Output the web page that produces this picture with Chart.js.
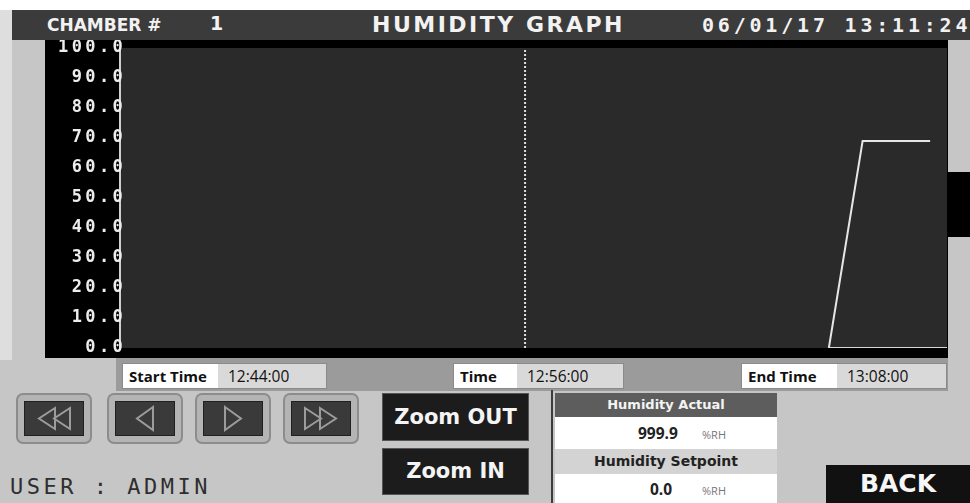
<!DOCTYPE html>
<html>
<head>
<meta charset="utf-8">
<script src="https://cdn.jsdelivr.net/npm/chart.js@4.4.0/dist/chart.umd.min.js"></script>
<style>
  body { margin: 0; width: 970px; height: 503px; background: #c6c6c6; position: relative; overflow: hidden; font-family: "DejaVu Sans", sans-serif; }
  .abs { position: absolute; }
  #topband { left: 0; top: 0; width: 970px; height: 10px; background: #fff; }
  #leftstrip { left: 0; top: 10px; width: 12px; height: 350px; background: #dedede; }
  #header { left: 12px; top: 10px; width: 958px; height: 30px; background: #3b3b3b; color: #f2f2f2; }
  #header span { position: absolute; font-weight: bold; white-space: nowrap; }
  #chamber { left: 35px; top: 5px; font-size: 17px; }
  #chamberNo { left: 198px; top: 2px; font-size: 19px; }
  #title { left: 360px; top: 2px; font-size: 22px; letter-spacing: 2.5px; }
  #clock { left: 690px; top: 3px; font-family: "DejaVu Sans Mono", monospace; font-size: 20px; letter-spacing: 3.8px; }
  #graph { left: 45px; top: 40px; background: #000; }
  #rightblock { left: 948px; top: 172px; width: 22px; height: 65px; background: #000; }
  #timebar { left: 116px; top: 358px; width: 832px; height: 33px; background: #9b9b9b; }
  .tbox { position: absolute; top: 363px; height: 24px; border: 1px solid #8a8a8a; background: #d9d9d9; display: flex; color: #111; }
  .tbox .lab { background: #fff; font-family: "Open Sans", sans-serif; font-weight: bold; font-size: 15px; padding-left: 6px; line-height: 24px; }
  .tbox .val { font-family: "Open Sans", sans-serif; font-size: 15.5px; padding-left: 10px; line-height: 24px; }
  .nav { position: absolute; top: 393px; width: 72px; height: 47px; background: #b4b4b4; border: 2px solid #8c8c8c; border-radius: 7px; }
  .nav .in { position: absolute; left: 6px; top: 6px; right: 6px; bottom: 6px; background: #3a3a3a; border: 1px solid #202020; }
  .nav svg { position: absolute; left: 0; top: 0; }
  .zbtn { position: absolute; left: 382px; width: 145px; background: #1c1c1c; color: #f4f4f4; font-weight: bold; font-size: 21px; text-align: center; border: 1px solid #555; }
  #sep { left: 551px; top: 390px; width: 2px; height: 113px; background: #3c3c3c; }
  .hrow { position: absolute; left: 555px; width: 222px; }
  .num { position: absolute; font-family: "Open Sans", sans-serif; font-weight: bold; font-size: 15.5px; color: #222; }
  .unit { position: absolute; left: 147px; font-family: "Open Sans", sans-serif; font-size: 11px; color: #777; }
  #back { left: 826px; top: 465px; width: 144px; height: 38px; background: #111; color: #f6f6f6; font-weight: bold; font-size: 25px; text-align: center; line-height: 38px; }
  #user { left: 10px; top: 474px; font-family: "DejaVu Sans Mono", monospace; font-size: 22px; letter-spacing: 3.5px; color: #2e2e2e; white-space: nowrap; }
</style>
</head>
<body>
<div id="topband" class="abs"></div>
<div id="leftstrip" class="abs"></div>
<div id="header" class="abs">
  <span id="chamber">CHAMBER #</span>
  <span id="chamberNo">1</span>
  <span id="title">HUMIDITY GRAPH</span>
  <span id="clock">06/01/17 13:11:24</span>
</div>

<canvas id="graph" class="abs" width="903" height="318"></canvas>
<div id="rightblock" class="abs"></div>

<div id="timebar" class="abs"></div>
<div class="tbox" style="left:122px;width:203px"><div class="lab" style="width:89px">Start Time</div><div class="val">12:44:00</div></div>
<div class="tbox" style="left:453px;width:169px"><div class="lab" style="width:57px">Time</div><div class="val">12:56:00</div></div>
<div class="tbox" style="left:741px;width:204px"><div class="lab" style="width:89px">End Time</div><div class="val">13:08:00</div></div>

<div class="nav" style="left:16px"><div class="in"></div>
  <svg width="72" height="47"><polygon points="37,13 21,23.5 37,34" fill="none" stroke="#9c9c9c" stroke-width="2"/><polygon points="52,13 36,23.5 52,34" fill="none" stroke="#9c9c9c" stroke-width="2"/></svg></div>
<div class="nav" style="left:107px"><div class="in"></div>
  <svg width="72" height="47"><polygon points="44,12 28,23.5 44,35" fill="none" stroke="#9c9c9c" stroke-width="2"/></svg></div>
<div class="nav" style="left:195px"><div class="in"></div>
  <svg width="72" height="47"><polygon points="28,12 44,23.5 28,35" fill="none" stroke="#9c9c9c" stroke-width="2"/></svg></div>
<div class="nav" style="left:283px"><div class="in"></div>
  <svg width="72" height="47"><polygon points="20,13 36,23.5 20,34" fill="none" stroke="#9c9c9c" stroke-width="2"/><polygon points="35,13 51,23.5 35,34" fill="none" stroke="#9c9c9c" stroke-width="2"/></svg></div>

<div class="zbtn" style="top:393px;height:46px;line-height:46px">Zoom OUT</div>
<div class="zbtn" style="top:448px;height:45px;line-height:45px">Zoom IN</div>

<div id="sep" class="abs"></div>
<div class="hrow" style="top:393px;height:24px;background:#5d5d5d;color:#f4f4f4;font-weight:bold;font-size:13px;text-align:center;line-height:24px">Humidity Actual</div>
<div class="hrow" style="top:417px;height:32px;background:#fff"><span class="num" style="left:83px;top:5px">999.9</span><span class="unit" style="top:10px">%RH</span></div>
<div class="hrow" style="top:449px;height:25px;background:#d3d3d3;color:#222;font-weight:bold;font-size:14px;text-align:center;line-height:25px">Humidity Setpoint</div>
<div class="hrow" style="top:474px;height:29px;background:#fff"><span class="num" style="left:95px;top:4px">0.0</span><span class="unit" style="top:9px">%RH</span></div>

<div id="back" class="abs">BACK</div>
<div id="user" class="abs">USER : ADMIN</div>

<script>
// minutes after start time (12:44:00); window ends at 13:08:00 (+ a little margin)
const windowMinutes = 24.5;
const yTicks = [0, 10, 20, 30, 40, 50, 60, 70, 80, 90, 100];

const actualMinutes = [21, 22, 24];
const actualValues = [0, 69, 69];

const setpointMinutes = [21, 24.5];
const setpointValues = [0, 0];

const cursorMinutes = [12, 12]; // 12:56:00
const cursorValues = [0, 100];

const toPoints = (xs, ys) => xs.map((x, i) => ({ x: x, y: ys[i] }));

const plotBg = {
  id: "plotBg",
  beforeDraw(chart) {
    const { ctx, chartArea } = chart;
    ctx.save();
    ctx.fillStyle = "#2a2a2a";
    ctx.fillRect(chartArea.left, chartArea.top, chartArea.right - chartArea.left, chartArea.bottom - chartArea.top);
    ctx.restore();
    ctx.letterSpacing = "3.4px";
  },
};

const graph = new Chart(document.getElementById("graph"), {
  type: "line",
  data: {
    datasets: [
      {
        data: toPoints(actualMinutes, actualValues),
        borderColor: "#e6e6e6",
        borderWidth: 2,
        pointRadius: 0,
      },
      {
        data: toPoints(setpointMinutes, setpointValues),
        borderColor: "#d8d8d8",
        borderWidth: 2,
        pointRadius: 0,
      },
      {
        data: toPoints(cursorMinutes, cursorValues),
        borderColor: "#e0e0e0",
        borderWidth: 2,
        borderDash: [2, 2],
        pointRadius: 0,
      },
    ],
  },
  options: {
    responsive: false,
    animation: false,
    layout: { padding: { top: 8, right: 1, bottom: 10, left: 0 } },
    plugins: { legend: { display: false }, tooltip: { enabled: false } },
    scales: {
      x: { type: "linear", min: 0, max: windowMinutes, display: false },
      y: {
        min: 0,
        max: 100,
        afterFit: (scale) => { scale.width = 75; },
        afterBuildTicks: (scale) => { scale.ticks = yTicks.map((v) => ({ value: v })); },
        ticks: {
          mirror: true,
          padding: -62,
          color: "#ededed",
          font: { family: "DejaVu Sans Mono", weight: "bold", size: 17 },
          callback: (v) => v.toFixed(1).padStart(5, " "),
        },
        grid: { display: false, drawTicks: false },
        border: { display: true, color: "#cfcfcf", width: 2 },
      },
    },
  },
  plugins: [plotBg],
});
</script>
</body>
</html>
